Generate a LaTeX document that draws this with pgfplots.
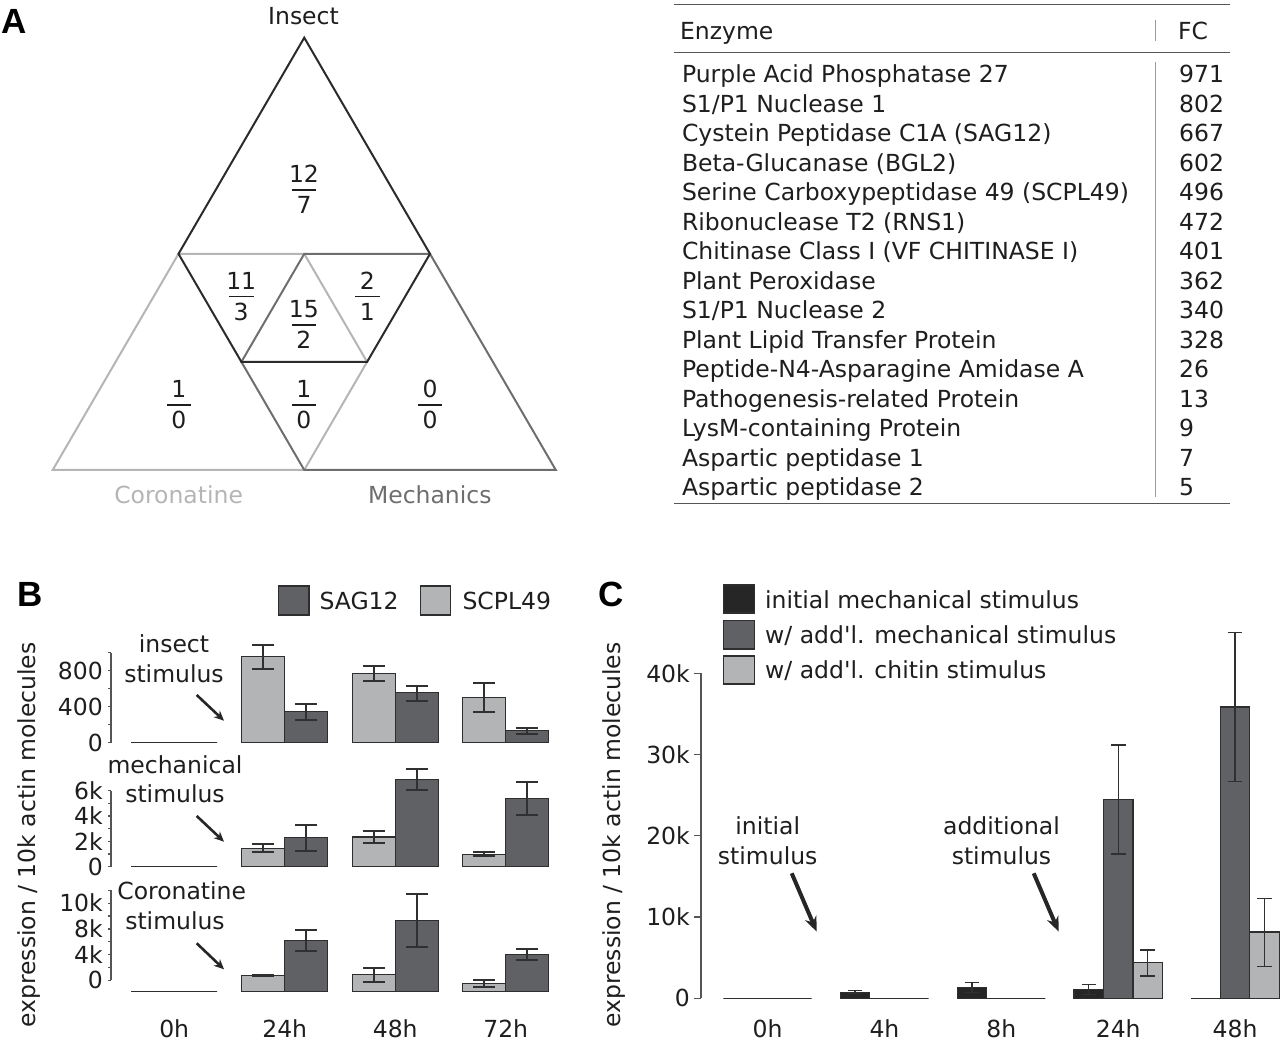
\documentclass[border=0pt]{standalone}
\usepackage{pgfplots}
\pgfplotsset{compat=1.18}
\usepackage{fontspec}
\setmainfont{DejaVu Sans}[Ligatures=TeXOff]
\newfontfamily\panelfont{Liberation Sans}
\usetikzlibrary{arrows.meta}
\definecolor{txt}{HTML}{1E1E1E}
\definecolor{darkc}{HTML}{606164}
\definecolor{lightc}{HTML}{B3B4B6}
\definecolor{blackc}{HTML}{262626}
\definecolor{edgec}{HTML}{2E2E2E}
\definecolor{axc}{HTML}{555555}
\definecolor{errc}{HTML}{303030}
\definecolor{triD}{HTML}{2B2B2B}
\definecolor{triM}{HTML}{6E6E6E}
\definecolor{triL}{HTML}{B5B5B5}
\definecolor{rulec}{HTML}{555555}
\definecolor{vrule}{HTML}{9A9A9A}
\newcommand{\fs}{\fontsize{23.5}{28}\selectfont}
\newcommand{\frc}[4]{%
  \node[anchor=base, inner sep=0pt, text=txt] at (#1,#2+7) {\fs #3};
  \draw[txt, line width=1.6pt] (#1-12.3,#2) -- (#1+12.3,#2);
  \node[anchor=base, inner sep=0pt, text=txt] at (#1,#2-23.8) {\fs #4};}
\pgfplotsset{
  bstyle/.style={scale only axis, clip=false, anchor=south west,
    xmin=-0.572, xmax=3.5, width=450pt,
    axis y line*=left,
    ybar=0pt, bar width=43pt,
    y axis line style={draw=axc, line width=1.3pt},
    tick style={draw=axc, line width=1.3pt},
    tick align=outside, major tick length=3pt, minor tick length=3pt,
    yticklabel style={font=\fs, text=txt, inner sep=0pt, xshift=-5pt},
    scaled y ticks=false, xtick={0,1,2,3}},
  berr/.style={error bars/.cd, y dir=both, y explicit,
    error bar style={line width=1.8pt, draw=errc},
    error mark options={rotate=90, line width=1.8pt, draw=errc, mark size=10.8pt}},
  cerr/.style={error bars/.cd, y dir=both, y explicit,
    error bar style={line width=1.3pt, draw=errc},
    error mark options={rotate=90, line width=1.3pt, draw=errc, mark size=7.3pt}},
}
\begin{document}
\begin{tikzpicture}[x=1pt,y=1pt]
% ---------------- Panel letters
\node[anchor=base west, inner sep=0pt] at (1,1007) {\panelfont\bfseries\fontsize{35}{40}\selectfont A};
\node[anchor=base west, inner sep=0pt] at (17,434.3) {\panelfont\bfseries\fontsize{35}{40}\selectfont B};
\node[anchor=base west, inner sep=0pt] at (598,434) {\panelfont\bfseries\fontsize{35}{40}\selectfont C};
% ---------------- Triangle diagram
\coordinate (L) at (52.7,571);
\coordinate (R) at (555.8,571);
\coordinate (M) at (304.25,571);
\coordinate (T) at (304.25,1003.3);
\coordinate (ML) at (178.5,787.15);
\coordinate (MR) at (430,787.15);
\coordinate (MT) at (304.25,787.15);
\coordinate (IL) at (241.4,679.1);
\coordinate (IR) at (367.1,679.1);
\draw[triL, line width=2pt, line join=miter] (L)--(ML)--(MT)--(IR)--(M)--cycle;
\draw[triM, line width=2pt, line join=miter] (R)--(MR)--(MT)--(IL)--(M)--cycle;
\draw[triD, line width=2pt, line join=miter] (T)--(ML)--(IL)--(IR)--(MR)--cycle;
\node[anchor=base, inner sep=0pt, text=txt] at (303.5,1016) {\fs Insect};
\node[anchor=base, inner sep=0pt, text=triL] at (178.6,537.7) {\fs Coronatine};
\node[anchor=base, inner sep=0pt, text=triM] at (429.8,537.7) {\fs Mechanics};
\frc{304}{851}{12}{7}
\frc{241.2}{744.3}{11}{3}
\frc{303.8}{716}{15}{2}
\frc{367.3}{744.3}{2}{1}
\frc{178.8}{636}{1}{0}
\frc{303.8}{636}{1}{0}
\frc{430}{636}{0}{0}
% ---------------- Table
\draw[rulec, line width=1.5pt] (673.9,1036.3) -- (1230.2,1036.3);
\draw[rulec, line width=1.5pt] (673.9,988.3) -- (1230.2,988.3);
\draw[rulec, line width=1.5pt] (673.9,537.7) -- (1230.2,537.7);
\draw[vrule, line width=1pt] (1155.2,1021) -- (1155.2,1000.3);
\draw[vrule, line width=1pt] (1155.2,979.3) -- (1155.2,544.3);
\node[anchor=base west, inner sep=0pt, text=txt] at (679.8,1001.7) {\fs Enzyme};
\node[anchor=base west, inner sep=0pt, text=txt] at (1177.9,1001.7) {\fs FC};
\begin{scope}[every node/.style={anchor=base west, inner sep=0pt, text=txt}]
\node at (681.8,958.3) {\fs Purple Acid Phosphatase 27};
\node at (681.8,928.78) {\fs S1/P1 Nuclease 1};
\node at (681.8,899.26) {\fs Cystein Peptidase C1A (SAG12)};
\node at (681.8,869.74) {\fs Beta-Glucanase (BGL2)};
\node at (681.8,840.22) {\fs Serine Carboxypeptidase 49 (SCPL49)};
\node at (681.8,810.70) {\fs Ribonuclease T2 (RNS1)};
\node at (681.8,781.18) {\fs Chitinase Class I (VF CHITINASE I)};
\node at (681.8,751.66) {\fs Plant Peroxidase};
\node at (681.8,722.14) {\fs S1/P1 Nuclease 2};
\node at (681.8,692.62) {\fs Plant Lipid Transfer Protein};
\node at (681.8,663.10) {\fs Peptide-N4-Asparagine Amidase A};
\node at (681.8,633.58) {\fs Pathogenesis-related Protein};
\node at (681.8,604.06) {\fs LysM-containing Protein};
\node at (681.8,574.54) {\fs Aspartic peptidase 1};
\node at (681.8,545.02) {\fs Aspartic peptidase 2};
\node at (1179,958.3) {\fs 971};
\node at (1179,928.78) {\fs 802};
\node at (1179,899.26) {\fs 667};
\node at (1179,869.74) {\fs 602};
\node at (1179,840.22) {\fs 496};
\node at (1179,810.70) {\fs 472};
\node at (1179,781.18) {\fs 401};
\node at (1179,751.66) {\fs 362};
\node at (1179,722.14) {\fs 340};
\node at (1179,692.62) {\fs 328};
\node at (1179,663.10) {\fs 26};
\node at (1179,633.58) {\fs 13};
\node at (1179,604.06) {\fs 9};
\node at (1179,574.54) {\fs 7};
\node at (1179,545.02) {\fs 5};
\end{scope}
% ---------------- Panel B legend
\draw[edgec, line width=1.3pt, fill=darkc] (278.3,426) rectangle (309,455);
\node[anchor=base west, inner sep=0pt, text=txt] at (319.3,431) {\fs SAG12};
\draw[edgec, line width=1.3pt, fill=lightc] (420.7,426) rectangle (450.7,455);
\node[anchor=base west, inner sep=0pt, text=txt] at (462.3,431) {\fs SCPL49};
% ---------------- Panel B: insect
\begin{axis}[bstyle, at={(111pt,298.3pt)}, height=90pt,
  ymin=0, ymax=1000, axis x line=none,
  ytick={0,400,800}, yticklabels={0,400,800}, minor ytick={200,600,1000}]
\addplot[fill=lightc, draw=edgec, line width=1.3pt, berr] coordinates {
  (0,0) (1,955) += (0,130) -= (0,140) (2,771) += (0,84) -= (0,86) (3,504) += (0,163) -= (0,160)};
\addplot[fill=darkc, draw=edgec, line width=1.3pt, berr] coordinates {
  (0,0) (1,344) += (0,86) -= (0,92) (2,556) += (0,77) -= (0,89) (3,133) += (0,34) -= (0,36)};
\end{axis}
% ---------------- Panel B: mechanical
\begin{axis}[bstyle, at={(111pt,174.3pt)}, height=76pt,
  ymin=0, ymax=6000, axis x line=none,
  ytick={0,2000,4000,6000}, yticklabels={0,2k,4k,6k}, minor ytick={1000,3000,5000}]
\addplot[fill=lightc, draw=edgec, line width=1.3pt, berr] coordinates {
  (0,0) (1,1453) += (0,315) -= (0,316) (2,2345) += (0,473) -= (0,474) (3,979) += (0,158) -= (0,158)};
\addplot[fill=darkc, draw=edgec, line width=1.3pt, berr] coordinates {
  (0,0) (1,2290) += (0,1026) -= (0,1050) (2,6900) += (0,790) -= (0,845) (3,5369) += (0,1318) -= (0,1287)};
\end{axis}
% ---------------- Panel B: coronatine (bars measured from the drawn base)
\begin{axis}[bstyle, at={(111pt,49.3pt)}, height=101.3pt,
  ymin=0, ymax=15800, axis x line*=bottom, x axis line style={draw=none},
  y axis line style={draw=none},
  xticklabels={0h,24h,48h,72h}, xtick style={draw=none},
  xticklabel style={font=\fs, text=txt, anchor=center, inner sep=0pt, yshift=-34.3pt},
  ytick={1800,5800,9800,13800}, yticklabels={0,4k,8k,10k}, minor ytick={3800,7800,11800,15800}]
\draw[axc, line width=1.3pt] (axis cs:-0.572,1800) -- (axis cs:-0.572,15800);
\addplot[fill=lightc, draw=edgec, line width=1.3pt, berr] coordinates {
  (0,0) (1,2494) += (0,80) -= (0,80) (2,2650) += (0,1092) -= (0,1195) (3,1247) += (0,624) -= (0,561)};
\addplot[fill=darkc, draw=edgec, line width=1.3pt, berr] coordinates {
  (0,0) (1,8013) += (0,1606) -= (0,1621) (2,11131) += (0,4100) -= (0,4115) (3,5768) += (0,842) -= (0,779)};
\end{axis}
% annotations B
\node[anchor=base, inner sep=0pt, text=txt] at (174,388.3) {\fs insect};
\node[anchor=base, inner sep=0pt, text=txt] at (174,358.7) {\fs stimulus};
\node[anchor=base, inner sep=0pt, text=txt] at (175,267.7) {\fs mechanical};
\node[anchor=base, inner sep=0pt, text=txt] at (175,238.3) {\fs stimulus};
\node[anchor=base, inner sep=0pt, text=txt] at (181.7,141) {\fs Coronatine};
\node[anchor=base, inner sep=0pt, text=txt] at (175,111.7) {\fs stimulus};
\draw[blackc, line width=2.6pt, -{Stealth[length=10pt, width=9pt]}] (196.7,346) -- (224,320.3);
\draw[blackc, line width=2.6pt, -{Stealth[length=10pt, width=9pt]}] (196.7,225) -- (224,199.3);
\draw[blackc, line width=2.6pt, -{Stealth[length=10pt, width=9pt]}] (196.7,97.7) -- (224,71.7);
\node[rotate=90, text=txt] at (29,206) {\fs expression / 10k actin molecules};
% ---------------- Panel C legend
\draw[edgec, line width=1.3pt, fill=blackc] (723.4,428) rectangle (754.2,456);
\draw[edgec, line width=1.3pt, fill=darkc] (723.4,392) rectangle (754.2,420.3);
\draw[edgec, line width=1.3pt, fill=lightc] (723.4,357) rectangle (754.2,385);
\node[anchor=base west, inner sep=0pt, text=txt] at (765,432.7) {\fs initial mechanical stimulus};
\node[anchor=base west, inner sep=0pt, text=txt] at (765,397.7) {\fs w/ add'l. mechanical stimulus};
\node[anchor=base west, inner sep=0pt, text=txt] at (765,362.7) {\fs w/ add'l. chitin stimulus};
% ---------------- Panel C
\begin{axis}[scale only axis, clip=false, anchor=south west, at={(701pt,42.7pt)},
  width=579pt, height=325pt,
  xmin=-0.569, xmax=4.384, ymin=0, ymax=40000,
  axis y line*=left, axis x line*=bottom, x axis line style={draw=none},
  y axis line style={draw=axc, line width=1.3pt},
  tick style={draw=axc, line width=1.3pt}, tick align=outside, major tick length=7pt,
  xtick={0,1,2,3,4}, xticklabels={0h,4h,8h,24h,48h}, xtick style={draw=none},
  xticklabel style={font=\fs, text=txt, anchor=center, inner sep=0pt, yshift=-23.7pt},
  ytick={0,10000,20000,30000,40000}, yticklabels={0,10k,20k,30k,40k}, scaled y ticks=false,
  yticklabel style={font=\fs, text=txt, inner sep=0pt, xshift=-4pt},
  ybar=0pt, bar width=29.4pt]
\addplot[fill=blackc, draw=edgec, line width=1.3pt, cerr] coordinates {
  (0,0) (1,739) += (0,197) -= (0,123) (2,1354) += (0,616) -= (0,615) (3,1108) += (0,615) -= (0,615) (4,0)};
\addplot[fill=darkc, draw=edgec, line width=1.3pt, cerr] coordinates {
  (0,0) (1,0) (2,0) (3,24497) += (0,6685) -= (0,6734) (4,35860) += (0,9147) -= (0,9147)};
\addplot[fill=lightc, draw=edgec, line width=1.3pt, cerr] coordinates {
  (0,0) (1,0) (2,0) (3,4386) += (0,1560) -= (0,1641) (4,8162) += (0,4148) -= (0,4272)};
\end{axis}
\node[anchor=base, inner sep=0pt, text=txt] at (767.7,206) {\fs initial};
\node[anchor=base, inner sep=0pt, text=txt] at (767.7,176) {\fs stimulus};
\node[anchor=base, inner sep=0pt, text=txt] at (1001.5,206) {\fs additional};
\node[anchor=base, inner sep=0pt, text=txt] at (1001.5,176) {\fs stimulus};
\draw[blackc, line width=4pt, -{Stealth[length=15pt, width=12pt]}] (791.7,167.7) -- (816.7,109.3);
\draw[blackc, line width=4pt, -{Stealth[length=15pt, width=12pt]}] (1033.7,167.7) -- (1058.7,109.3);
\node[rotate=90, text=txt] at (614,206) {\fs expression / 10k actin molecules};
\pgfresetboundingbox
\useasboundingbox (0,0) rectangle (1280,1041);
\end{tikzpicture}
\end{document}
